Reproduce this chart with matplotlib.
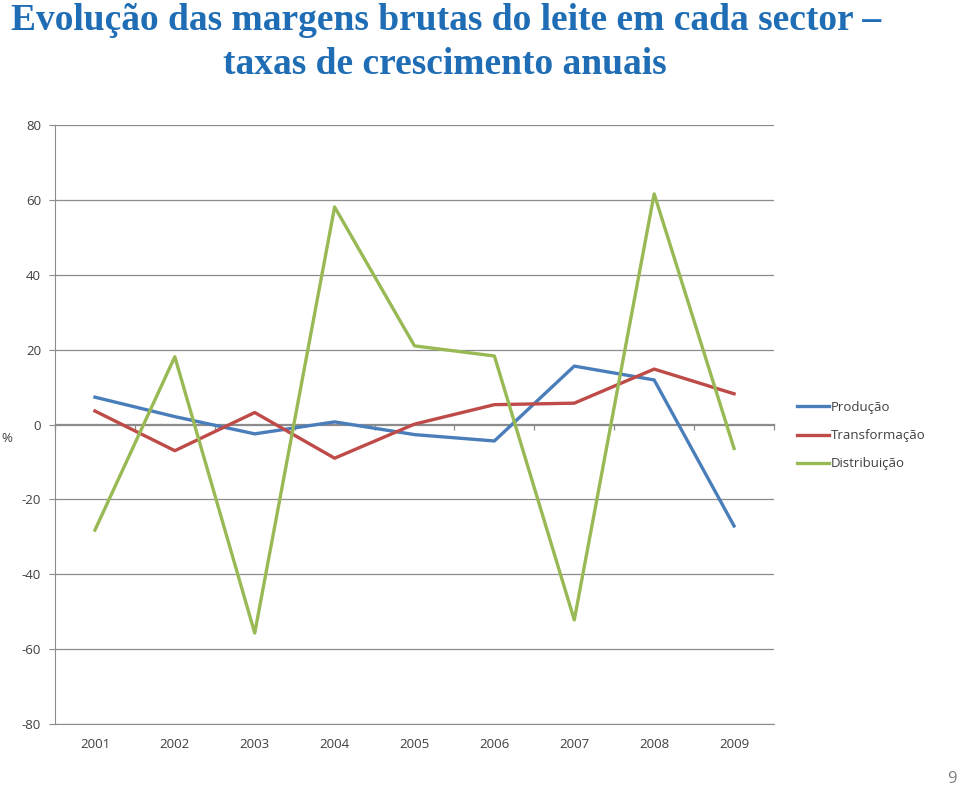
import numpy as np
import matplotlib.pyplot as plt

years = ["2001", "2002", "2003", "2004", "2005", "2006", "2007", "2008", "2009"]
producao = [7.3, 2.1, -2.5, 0.7, -2.7, -4.4, 15.6, 11.9, -27.1]
transformacao = [3.6, -7.0, 3.2, -9.0, 0.1, 5.3, 5.7, 14.8, 8.2]
distribuicao = [-28.2, 18.1, -55.7, 58.1, 21.0, 18.3, -52.2, 61.6, -6.4]
y_ticks = [-80, -60, -40, -20, 0, 20, 40, 60, 80]

grid_c = "#8c8c8c"
lab_c = "#404040"
tick_font = "Open Sans"

fig = plt.figure(figsize=(9.6, 7.89), dpi=100)
ax = fig.add_axes([55 / 960, 65 / 789, 719 / 960, 599 / 789])

x = np.arange(len(years))
ax.plot(x, producao, color="#4A7EBB", lw=2.4, label="Produção")
ax.plot(x, transformacao, color="#BE4B48", lw=2.4, label="Transformação")
ax.plot(x, distribuicao, color="#98B954", lw=2.4, label="Distribuição")

ax.set_xlim(-0.5, len(years) - 0.5)
ax.set_ylim(-80, 80)
ax.set_yticks(y_ticks)
ax.set_yticklabels([str(v) for v in y_ticks], fontsize=9.5, color=lab_c, family=tick_font)
ax.set_xticks(x)
ax.set_xticklabels(years, fontsize=9.5, color=lab_c, family=tick_font)
ax.tick_params(axis="x", length=0, pad=10)
ax.tick_params(axis="y", length=4, color=grid_c, pad=6)
ax.yaxis.grid(True, color=grid_c, lw=0.9)
ax.set_axisbelow(True)
for s in ["top", "right"]:
    ax.spines[s].set_visible(False)
ax.spines["left"].set_color(grid_c)
ax.spines["bottom"].set_color(grid_c)

# category axis crossing at zero, with boundary ticks pointing down
sec = ax.secondary_xaxis(0.5)
sec.set_xticks(np.arange(len(years) + 1) - 0.5)
sec.set_xticklabels([])
sec.tick_params(length=4, color=grid_c, width=0.9, direction="in")
for sp in sec.spines.values():
    sp.set_color(grid_c)
    sp.set_linewidth(0.9)

ax.set_ylabel("%", rotation=0, fontsize=9.5, color=lab_c, family=tick_font)
ax.yaxis.set_label_coords(-0.067, 0.466)

leg = ax.legend(loc="upper left", bbox_to_anchor=(1.025, 0.548), frameon=False,
                prop={"family": tick_font, "size": 9.5}, handlelength=2.4,
                handletextpad=0.15, labelspacing=1.15, borderaxespad=0)
for t in leg.get_texts():
    t.set_color(lab_c)

title_kw = dict(fontsize=27, fontweight="bold", family="Liberation Serif", color="#1F6DB4")
fig.text(446 / 960, 1 - 20 / 789, "Evolução das margens brutas do leite em cada sector –",
         ha="center", va="center", **title_kw)
fig.text(445 / 960, 1 - 64 / 789, "taxas de crescimento anuais",
         ha="center", va="center", **title_kw)

fig.text(952 / 960, 1 - 779 / 789, "9", ha="center", va="center",
         fontsize=12, color="#808080", family=tick_font)

fig.savefig("out.png", dpi=100)
